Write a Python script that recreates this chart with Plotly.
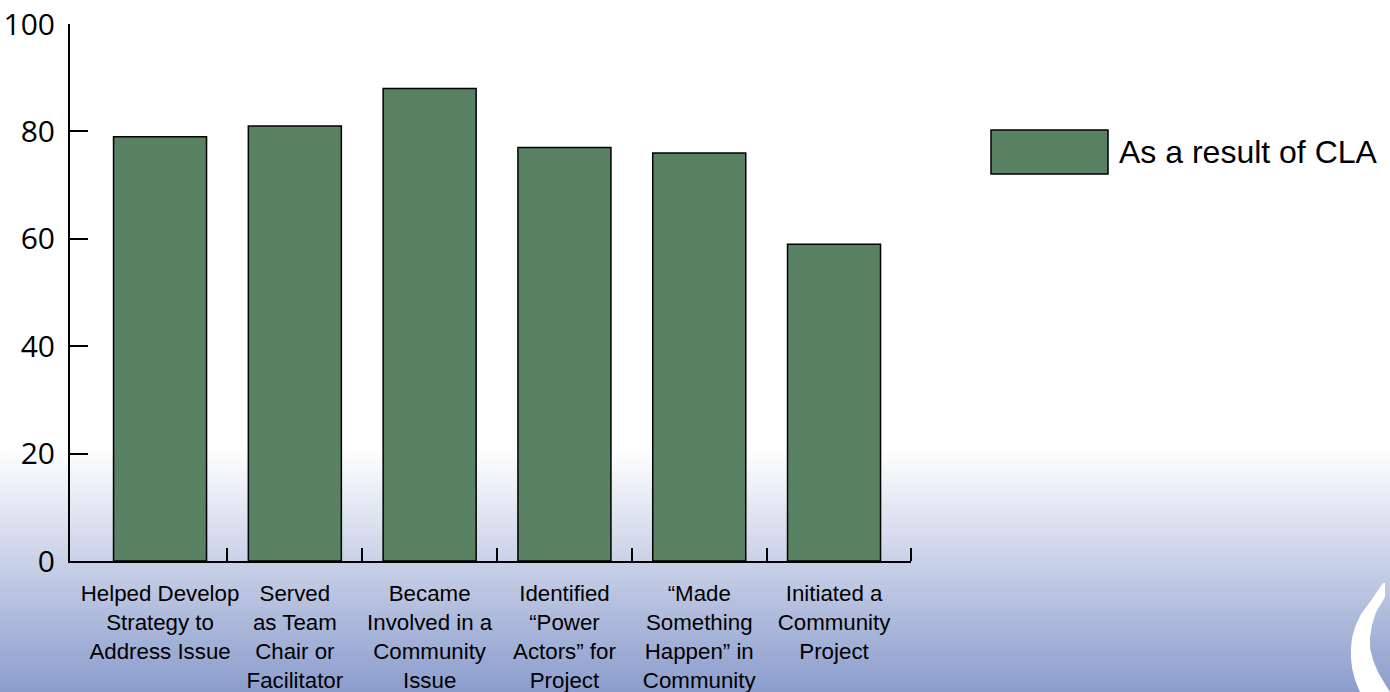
import plotly.graph_objects as go

# ---- data ----
categories = [
    "Helped Develop<br>Strategy to<br>Address Issue",
    "Served<br>as Team<br>Chair or<br>Facilitator",
    "Became<br>Involved in a<br>Community<br>Issue",
    "Identified<br>“Power<br>Actors” for<br>Project",
    "“Made<br>Something<br>Happen” in<br>Community",
    "Initiated a<br>Community<br>Project",
]
values = [79, 81, 88, 77, 76, 59]
series_name = "As a result of CLA"
y_ticks = [0, 20, 40, 60, 80, 100]

W, H = 1390, 692
BAR_COLOR = "#588263"


def px(x):
    return x / W


def py(y):
    return 1 - y / H


positions = list(range(len(categories)))

fig = go.Figure()
fig.add_trace(go.Bar(
    x=positions,
    y=values,
    width=0.69,
    marker=dict(color=BAR_COLOR, line=dict(color="black", width=1.5)),
    name=series_name,
    showlegend=False,
    hoverinfo="y",
))

shapes = []
# background gradient (white -> blue) in the lower part
top, bottom = 448, H
c0 = (255, 255, 255)
c1 = (139, 156, 204)
step = 2
for y in range(top, bottom, step):
    t = (y - top) / (bottom - top)
    c = tuple(round(c0[i] + (c1[i] - c0[i]) * t) for i in range(3))
    shapes.append(dict(
        type="rect", xref="paper", yref="paper",
        x0=0, x1=1, y0=py(y + step), y1=py(y),
        fillcolor="rgb(%d,%d,%d)" % c, line=dict(width=0), layer="below",
    ))

# white crescent decoration bottom right
outer = [(1383, 583), (1370, 602), (1361, 614), (1355, 627), (1352, 638), (1351, 648),
         (1351, 658), (1352, 668), (1355, 680), (1360, 692)]
inner = [(1390, 692), (1385, 684), (1378, 672), (1373, 660), (1370, 648), (1370, 637),
         (1372, 625), (1376, 612), (1385, 597), (1385, 583)]
pts = outer + inner
path = "M " + " L ".join("%.5f,%.5f" % (px(x), py(y)) for x, y in pts) + " Z"
shapes.append(dict(type="path", xref="paper", yref="paper", path=path,
                   fillcolor="white", line=dict(width=0), layer="below"))

# legend swatch
shapes.append(dict(type="rect", xref="paper", yref="paper",
                   x0=px(991), x1=px(1108), y0=py(174), y1=py(130),
                   fillcolor=BAR_COLOR, line=dict(color="black", width=1.5)))

x_range = [-0.668, 5.571]

fig.update_layout(
    width=W, height=H,
    margin=dict(l=0, r=0, t=0, b=0, autoexpand=False),
    paper_bgcolor="white",
    plot_bgcolor="rgba(0,0,0,0)",
    shapes=shapes,
    bargap=0.31,
    xaxis=dict(
        domain=[px(70), px(911)],
        range=x_range,
        automargin=False,
        tickmode="array",
        tickvals=positions,
        ticktext=categories,
        ticks="",
        showline=True, linecolor="black", linewidth=2,
        showgrid=False, zeroline=False,
        tickfont=dict(family="Liberation Sans, Arial", size=22.3, color="black"),
        ticklabelstandoff=11,
        minor=dict(
            tickmode="array",
            tickvals=[0.5, 1.5, 2.5, 3.5, 4.5, 5.57],
            ticks="inside", ticklen=13, tickwidth=2, tickcolor="black",
            showgrid=False,
        ),
        fixedrange=True,
    ),
    yaxis=dict(
        domain=[py(561), py(24)],
        range=[0, 100],
        automargin=False,
        tickmode="array",
        tickvals=y_ticks,
        ticks="inside", ticklen=18, tickwidth=2, tickcolor="black",
        showline=True, linecolor="black", linewidth=2,
        showgrid=False, zeroline=False,
        tickfont=dict(family="Open Sans", size=30, color="black"),
        ticklabelstandoff=7,
        fixedrange=True,
    ),
    annotations=[dict(
        xref="paper", yref="paper", x=px(1117), y=py(152),
        xanchor="left", yanchor="middle", showarrow=False,
        text=series_name,
        font=dict(family="Liberation Sans, Arial", size=32, color="black"),
    )],
)

fig.write_html("out.html")
